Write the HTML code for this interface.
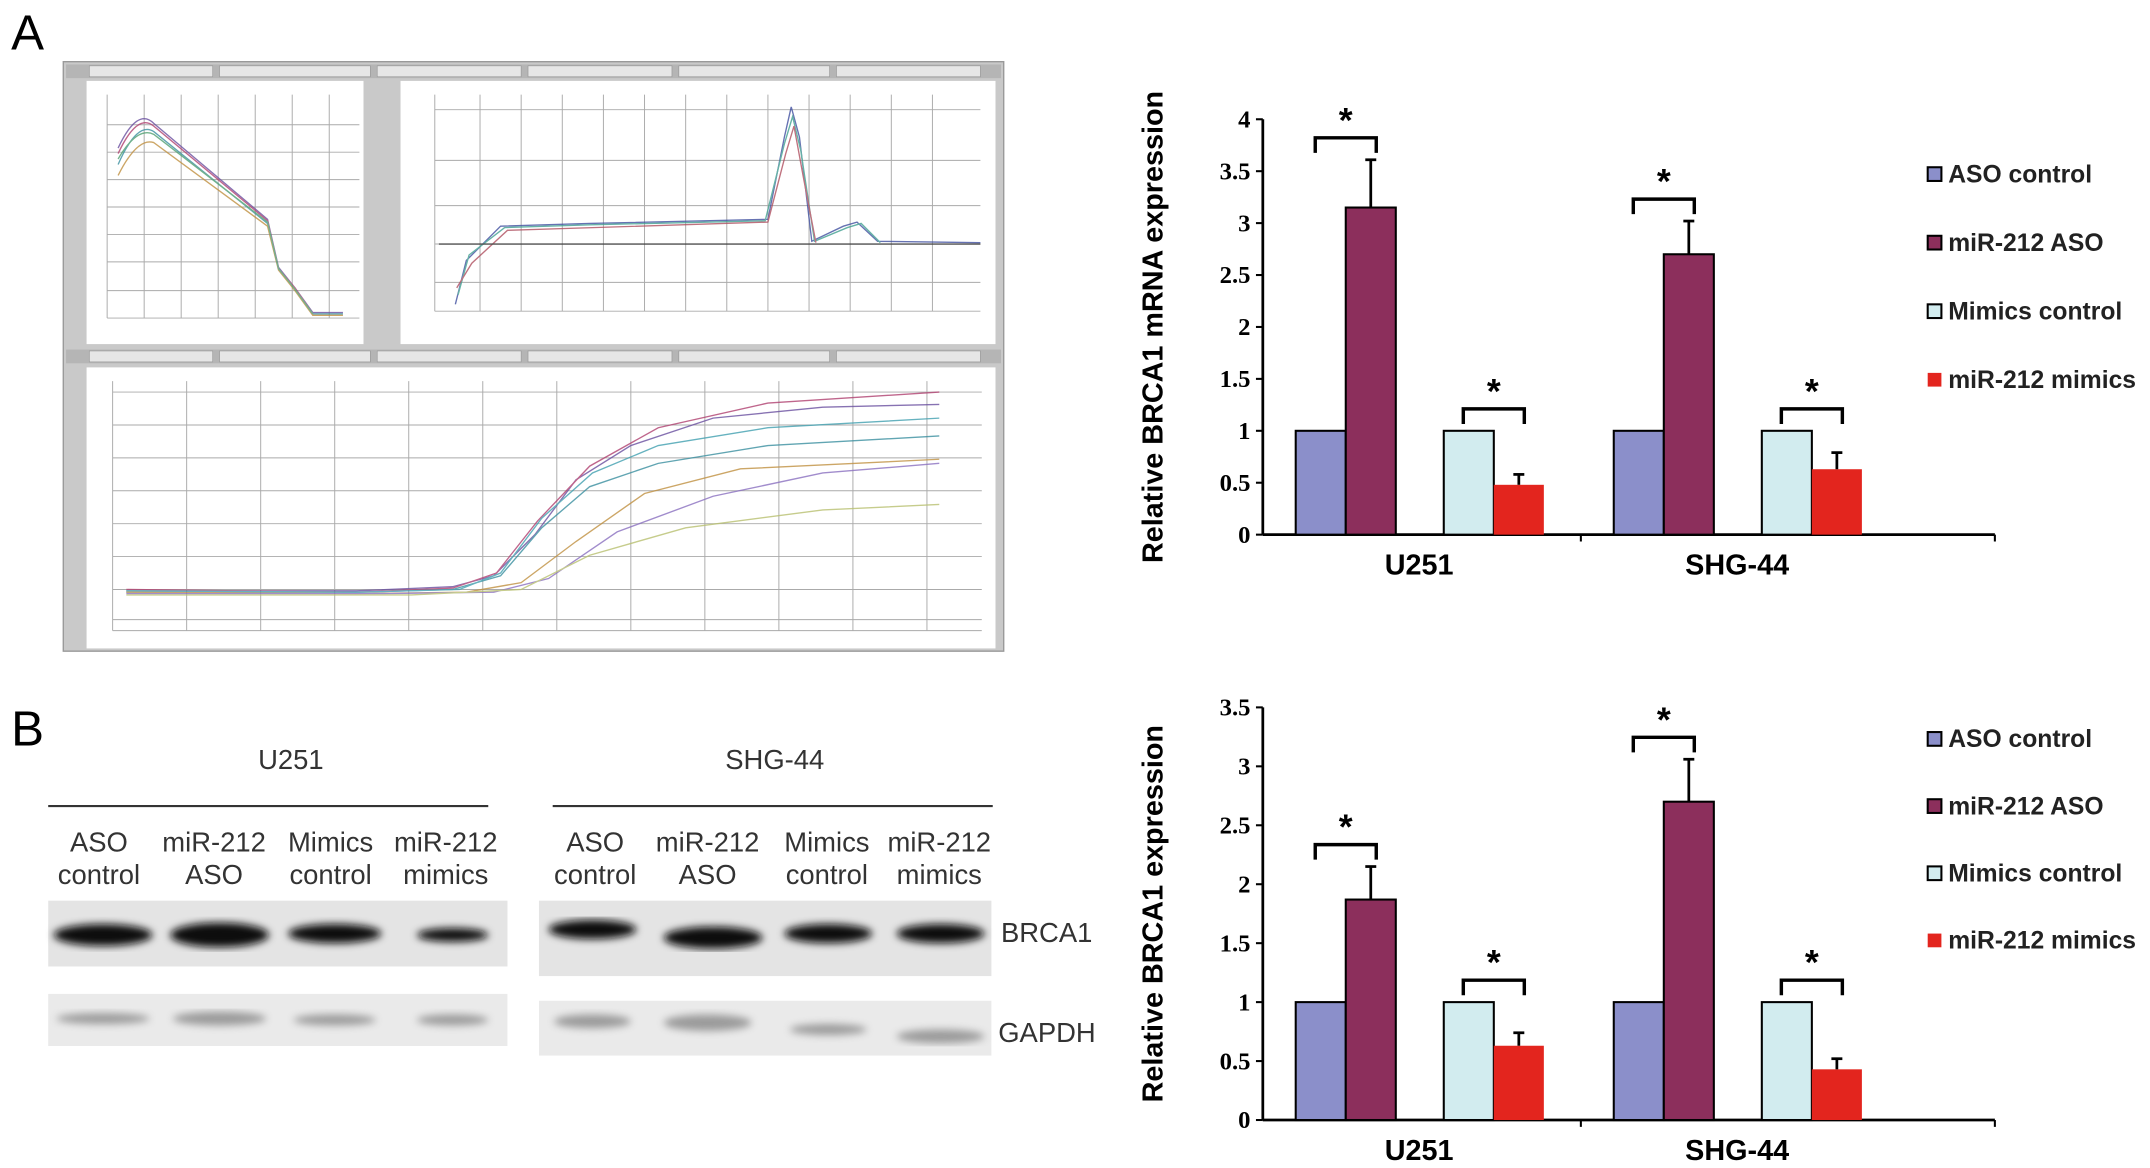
<!DOCTYPE html>
<html><head><meta charset="utf-8"><style>
html,body{margin:0;padding:0;background:#fff;}
svg{display:block;font-family:"Liberation Sans",sans-serif;}
</style></head><body>
<svg width="2150" height="1168" viewBox="0 0 1568 852" xmlns="http://www.w3.org/2000/svg">
<defs>
<filter id="blur"><feGaussianBlur stdDeviation="3"/></filter>
</defs>
<text x="8" y="36" font-size="36">A</text>
<text x="8" y="544" font-size="36">B</text>

<g>
 <rect x="46" y="45" width="686" height="430" fill="#c9c9c9" stroke="#999"/>
 <rect x="48" y="47" width="682" height="10" fill="#b5b5b5"/>
 <rect x="48" y="255" width="682" height="10" fill="#b5b5b5"/>
 <g fill="#e6e6e6" stroke="#999" stroke-width="0.5">
  <rect x="65" y="48" width="90" height="8"/><rect x="160" y="48" width="110" height="8"/><rect x="275" y="48" width="105" height="8"/>
  <rect x="385" y="48" width="105" height="8"/><rect x="495" y="48" width="110" height="8"/><rect x="610" y="48" width="105" height="8"/>
  <rect x="65" y="256" width="90" height="8"/><rect x="160" y="256" width="110" height="8"/><rect x="275" y="256" width="105" height="8"/>
  <rect x="385" y="256" width="105" height="8"/><rect x="495" y="256" width="110" height="8"/><rect x="610" y="256" width="105" height="8"/>
 </g>
 <rect x="63" y="59" width="202" height="192" fill="#fff"/>
 <rect x="292" y="59" width="434" height="192" fill="#fff"/>
 <rect x="63" y="268" width="663" height="205" fill="#fff"/>
 <g stroke="#aaa" stroke-width="0.7" fill="none">
  <path d="M78 69V232M105 69V232M132 69V232M159 69V232M186 69V232M213 69V232M240 69V232M78 232H262M78 91H262M78 111H262M78 131H262M78 151H262M78 171H262M78 191H262M78 212H262"/>
  <path d="M317 69V227M350 69V227M380 69V227M410 69V227M440 69V227M470 69V227M500 69V227M530 69V227M560 69V227M590 69V227M620 69V227M650 69V227M680 69V227M317 227H715M317 80H715M317 117H715M317 150H715M317 178H715M317 206H715"/>
  <path d="M82 278V460M136 278V460M190 278V460M244 278V460M298 278V460M352 278V460M406 278V460M460 278V460M514 278V460M568 278V460M622 278V460M676 278V460M82 460H716M82 286H716M82 310H716M82 334H716M82 358H716M82 382H716M82 406H716M82 430H716M82 452H716"/>
 </g>
 <g fill="none" stroke-width="1" opacity="0.8">
  <path d="M86 108 Q100 78 112 90 L195 160 L203 195 L215 210 L228 228 L250 228" stroke="#6a4fa0"/>
  <path d="M86 120 Q100 88 112 96 L195 163 L203 196 L215 211 L228 229 L250 229" stroke="#3a8fa0"/>
  <path d="M86 128 Q100 100 112 104 L195 165 L203 197 L215 212 L228 230 L250 230" stroke="#c09040"/>
  <path d="M86 112 Q100 82 112 92 L195 161 L203 196 L215 210 L228 229" stroke="#b04070"/>
  <path d="M86 116 Q100 92 112 98 L195 162 L203 196 L215 211 L228 229" stroke="#50a070"/>
  <path d="M332 222 L340 190 L365 165 L430 163 L560 160 L572 100 L577 78 L583 100 L592 176 L615 165 L625 162 L640 176 L715 177" stroke="#4050a0"/>
  <path d="M334 215 L342 186 L368 166 L430 164 L558 161 L572 105 L578 85 L584 110 L594 176 L618 166 L628 163 L642 177" stroke="#40a090"/>
  <path d="M333 210 L344 192 L370 168 L560 162 L573 112 L579 92 L586 130 L595 177" stroke="#b05060"/>
  <path d="M320 178H715" stroke="#333"/>
  <path d="M92 431 L150 431 L260 431 L330 428 L360 420 L390 390 L420 350 L460 325 L520 305 L600 297 L685 295" stroke="#6a4fa0"/>
  <path d="M92 432 L260 432 L330 430 L365 420 L395 385 L430 355 L480 338 L560 325 L685 318" stroke="#3a8fa0"/>
  <path d="M92 432 L260 433 L340 432 L380 425 L420 395 L470 360 L540 342 L685 335" stroke="#c09040"/>
  <path d="M92 430 L260 432 L330 429 L362 418 L392 380 L430 340 L480 312 L560 294 L685 286" stroke="#b04070"/>
  <path d="M92 433 L280 433 L360 432 L400 422 L450 388 L520 362 L600 345 L685 338" stroke="#8a70c0"/>
  <path d="M92 434 L300 434 L380 430 L430 405 L500 385 L600 372 L685 368" stroke="#b8c070"/>
  <path d="M92 431 L260 432 L335 430 L365 418 L395 378 L432 345 L480 325 L560 312 L685 305" stroke="#40a0b0"/>
 </g>
</g>

<g id="chart1"></g>
<g id="chart2"></g>

<g font-size="20" fill="#333">
 <text x="212" y="561" text-anchor="middle">U251</text>
 <text x="565" y="561" text-anchor="middle">SHG-44</text>
 <line x1="35" y1="588" x2="356" y2="588" stroke="#333" stroke-width="1.5"/>
 <line x1="403" y1="588" x2="724" y2="588" stroke="#333" stroke-width="1.5"/>
 <g text-anchor="middle">
  <text x="72" y="621">ASO</text><text x="72" y="645">control</text>
  <text x="156" y="621">miR-212</text><text x="156" y="645">ASO</text>
  <text x="241" y="621">Mimics</text><text x="241" y="645">control</text>
  <text x="325" y="621">miR-212</text><text x="325" y="645">mimics</text>
  <text x="434" y="621">ASO</text><text x="434" y="645">control</text>
  <text x="516" y="621">miR-212</text><text x="516" y="645">ASO</text>
  <text x="603" y="621">Mimics</text><text x="603" y="645">control</text>
  <text x="685" y="621">miR-212</text><text x="685" y="645">mimics</text>
 </g>
 <rect x="35" y="657" width="335" height="48" fill="#e4e4e4"/>
 <rect x="35" y="725" width="335" height="38" fill="#eaeaea"/>
 <rect x="393" y="657" width="330" height="55" fill="#e4e4e4"/>
 <rect x="393" y="730" width="330" height="40" fill="#eaeaea"/>
 <g fill="#111" filter="url(#blur)">
  <ellipse cx="75" cy="682" rx="36" ry="8"/><ellipse cx="160" cy="682" rx="36" ry="9"/>
  <ellipse cx="244" cy="681" rx="34" ry="7"/><ellipse cx="330" cy="682" rx="26" ry="5"/>
  <ellipse cx="432" cy="678" rx="32" ry="7"/><ellipse cx="520" cy="684" rx="36" ry="8"/>
  <ellipse cx="604" cy="681" rx="32" ry="7"/><ellipse cx="686" cy="681" rx="32" ry="7"/>
 </g>
 <g fill="#666" filter="url(#blur)" opacity="0.6">
  <ellipse cx="75" cy="743" rx="34" ry="4"/><ellipse cx="160" cy="743" rx="34" ry="5"/>
  <ellipse cx="244" cy="744" rx="30" ry="4"/><ellipse cx="330" cy="744" rx="26" ry="4"/>
  <ellipse cx="432" cy="745" rx="28" ry="5"/><ellipse cx="516" cy="746" rx="32" ry="6"/>
  <ellipse cx="604" cy="751" rx="28" ry="4"/><ellipse cx="686" cy="756" rx="32" ry="5"/>
 </g>
 <text x="730" y="687">BRCA1</text>
 <text x="728" y="760">GAPDH</text>
</g>

<script>
const NS='http://www.w3.org/2000/svg';
const groups=['U251','SHG-44'];
const seriesNames=['ASO control','miR-212 ASO','Mimics control','miR-212 mimics'];
const colors=['#8b8fca','#8c2f5c','#d2ecef','#e3251e'];
const mrnaValues=[[1,3.15,1,0.48],[1,2.7,1,0.63]];
const mrnaErrors=[[0,0.46,0,0.1],[0,0.32,0,0.16]];
const mrnaTicks=['0','0.5','1','1.5','2','2.5','3','3.5','4'];
const protValues=[[1,1.87,1,0.63],[1,2.7,1,0.43]];
const protErrors=[[0,0.28,0,0.11],[0,0.36,0,0.09]];
const protTicks=['0','0.5','1','1.5','2','2.5','3','3.5'];

function mk(tag,attrs,parent,text){const e=document.createElementNS(NS,tag);for(const k in attrs)e.setAttribute(k,attrs[k]);if(text!==undefined)e.textContent=text;parent.appendChild(e);return e;}

function drawChart(gid,cfg){
 const g=document.getElementById(gid);
 const x0=921,x1=1455,y0=cfg.y0,ppu=cfg.ppu;
 const yS=v=>y0-v*ppu;
 const maxV=parseFloat(cfg.ticks[cfg.ticks.length-1]);
 mk('line',{x1:x0,y1:y0,x2:x0,y2:yS(maxV),stroke:'#000','stroke-width':2},g);
 mk('line',{x1:x0,y1:y0,x2:x1,y2:y0,stroke:'#000','stroke-width':2},g);
 mk('line',{x1:1153,y1:y0,x2:1153,y2:y0+5,stroke:'#000','stroke-width':1.5},g);
 mk('line',{x1:x1,y1:y0,x2:x1,y2:y0+5,stroke:'#000','stroke-width':1.5},g);
 cfg.ticks.forEach(t=>{const v=parseFloat(t);
  const tl=mk('text',{x:x0-9,y:yS(v)+6,'text-anchor':'end','font-size':18,'font-weight':'bold','font-family':'Liberation Serif, serif'},g,t);
  
  
  mk('line',{x1:x0-5,y1:yS(v),x2:x0,y2:yS(v),stroke:'#000','stroke-width':1.5},g);
 });
 const yt=mk('text',{transform:`translate(848,${(y0+yS(maxV))/2}) rotate(-90)`,'text-anchor':'middle','font-size':21,'font-weight':'bold'},g,cfg.title);
 
 
 const groupStart=[945,1177],pairOff=[0,108],bw=36.5;
 groups.forEach((gn,gi)=>{
  const gl=mk('text',{x:(groupStart[gi]+90),y:y0+29,'text-anchor':'middle','font-size':21,'font-weight':'bold'},g,gn);
  
  
  for(let p=0;p<2;p++){
   const bx=groupStart[gi]+pairOff[p];
   let top=0;
   for(let k=0;k<2;k++){
    const si=p*2+k,v=cfg.values[gi][si],e=cfg.errors[gi][si];
    const x=bx+k*bw;
    const r=mk('rect',{x:x,y:yS(v),width:bw,height:v*ppu,fill:colors[si],stroke:(si===3?'none':'#000'),'stroke-width':1.5},g);
    
    
    if(e>0){const cx=x+bw/2;
     mk('line',{x1:cx,y1:yS(v),x2:cx,y2:yS(v+e),stroke:'#000','stroke-width':2},g);
     mk('line',{x1:cx-4,y1:yS(v+e),x2:cx+4,y2:yS(v+e),stroke:'#000','stroke-width':2},g);}
    top=Math.max(top,v+e);
   }
   const by=yS(top)-cfg.gap, l=bx+bw/2-4, rr=bx+bw*1.5+4;
   const br=mk('path',{d:`M${l} ${by+11}V${by}H${rr}V${by+11}`,fill:'none',stroke:'#000','stroke-width':2.5},g);
   
   
   const st=mk('text',{x:(l+rr)/2,y:by-4,'text-anchor':'middle','font-size':26,'font-weight':'bold','font-family':'Liberation Sans, sans-serif'},g,'*');
   
   
  }
 });
 seriesNames.forEach((n,i)=>{
  const ly=cfg.legY+i*cfg.legStep;
  const lg=mk('g',{},g);
  
  
  mk('rect',{x:1406,y:ly-11,width:10,height:10,fill:colors[i],stroke:(i===3?'none':'#000'),'stroke-width':1.5},lg);
  mk('text',{x:1421,y:ly,'font-size':18,'font-weight':'bold','fill':'#222'},lg,n);
 });
}
drawChart('chart1',{y0:390,ppu:75.75,ticks:mrnaTicks,values:mrnaValues,errors:mrnaErrors,title:'Relative BRCA1 mRNA expression',gap:16,legY:133,legStep:50});
drawChart('chart2',{y0:817,ppu:86,ticks:protTicks,values:protValues,errors:protErrors,title:'Relative BRCA1 expression',gap:16,legY:545,legStep:49});
</script>
</svg>
</body></html>
